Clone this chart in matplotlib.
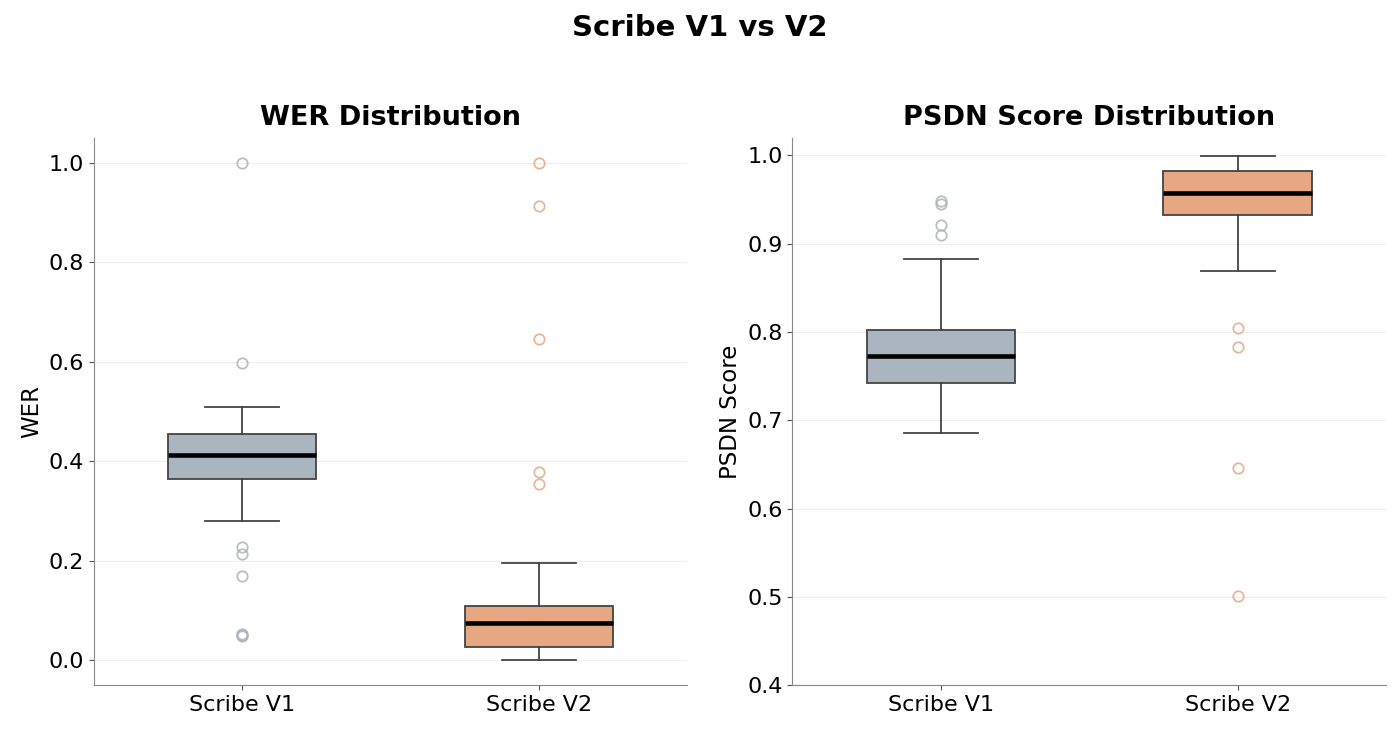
import numpy as np
import matplotlib.pyplot as plt

plt.rcParams['font.family'] = ['DejaVu Sans']

models = ['Scribe V1', 'Scribe V2']
box_colors = ['#aab5bf', '#e6a882']
flier_colors = ['#a9b0b8', '#e3a57f']

# WER box stats
wer_q1 = [0.365, 0.026]
wer_med = [0.413, 0.075]
wer_q3 = [0.454, 0.110]
wer_lo = [0.281, 0.0]
wer_hi = [0.510, 0.196]
wer_fliers = [
    [1.0, 0.597, 0.228, 0.213, 0.169, 0.052, 0.050, 0.049],
    [1.0, 0.913, 0.646, 0.378, 0.354],
]

# PSDN score box stats
psdn_q1 = [0.742, 0.932]
psdn_med = [0.773, 0.957]
psdn_q3 = [0.802, 0.982]
psdn_lo = [0.686, 0.869]
psdn_hi = [0.883, 0.999]
psdn_fliers = [
    [0.948, 0.945, 0.921, 0.910],
    [0.805, 0.783, 0.646, 0.501],
]


def make_stats(q1, med, q3, lo, hi, fliers):
    stats = []
    for i in range(len(models)):
        stats.append({'q1': q1[i], 'med': med[i], 'q3': q3[i],
                      'whislo': lo[i], 'whishi': hi[i],
                      'fliers': np.array(fliers[i]), 'label': models[i]})
    return stats


def draw_box(ax, stats, title, ylabel, ylim, yticks):
    bp = ax.bxp(stats, positions=[0, 1], widths=0.5, patch_artist=True,
                showfliers=True,
                boxprops=dict(edgecolor='#444444', linewidth=1.3),
                whiskerprops=dict(color='#444444', linewidth=1.3),
                capprops=dict(color='#444444', linewidth=1.3),
                medianprops=dict(color='black', linewidth=3.3))
    for patch, c in zip(bp['boxes'], box_colors):
        patch.set_facecolor(c)
    for fl, c in zip(bp['fliers'], flier_colors):
        fl.set(marker='o', markerfacecolor='none', markeredgecolor=c,
               markersize=7.5, markeredgewidth=1.3, alpha=0.8)
    ax.set_xlim(-0.5, 1.5)
    ax.set_ylim(*ylim)
    ax.set_yticks(yticks)
    ax.set_title(title, fontsize=19.5, fontweight='bold', pad=9)
    ax.set_ylabel(ylabel, fontsize=16.5, labelpad=4)
    ax.tick_params(axis='both', labelsize=16, color='#555555')
    ax.grid(axis='y', color='#eeeeee', linewidth=0.8)
    ax.set_axisbelow(True)
    for s in ['top', 'right']:
        ax.spines[s].set_visible(False)
    for s in ['left', 'bottom']:
        ax.spines[s].set_color('#888888')


fig, axes = plt.subplots(1, 2, figsize=(14, 7.29), dpi=100)
fig.subplots_adjust(left=0.067, right=0.99, top=0.811, bottom=0.06, wspace=0.177)

draw_box(axes[0], make_stats(wer_q1, wer_med, wer_q3, wer_lo, wer_hi, wer_fliers),
         'WER Distribution', 'WER', (-0.05, 1.05), [0.0, 0.2, 0.4, 0.6, 0.8, 1.0])
draw_box(axes[1], make_stats(psdn_q1, psdn_med, psdn_q3, psdn_lo, psdn_hi, psdn_fliers),
         'PSDN Score Distribution', 'PSDN Score', (0.4, 1.02),
         [0.4, 0.5, 0.6, 0.7, 0.8, 0.9, 1.0])

fig.suptitle('Scribe V1 vs V2', fontsize=21, fontweight='bold', y=0.962, va='center')

fig.savefig('out.png', dpi=100)
